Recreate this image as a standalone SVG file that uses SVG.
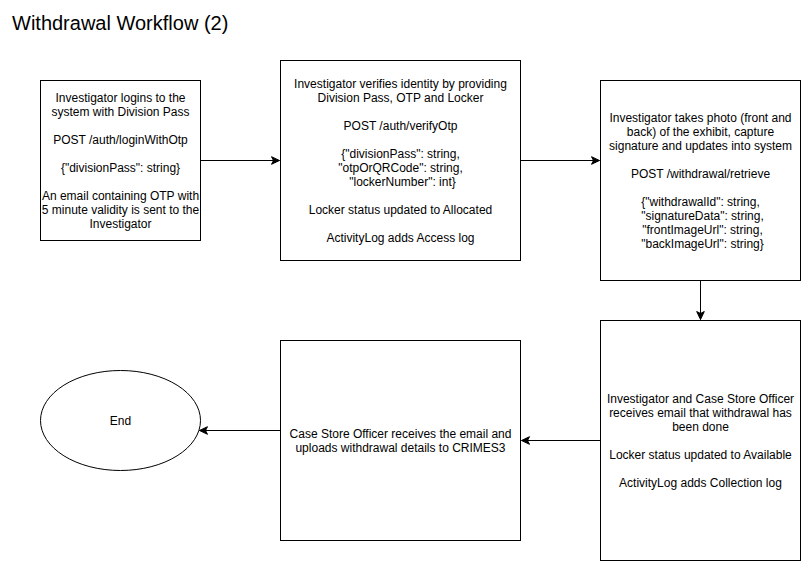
<svg xmlns="http://www.w3.org/2000/svg" width="801" height="561" viewBox="0 0 801 561">
  <defs>
    <marker id="arrow" markerUnits="userSpaceOnUse" markerWidth="12" markerHeight="10" refX="9" refY="5" orient="auto">
      <path d="M1,1.2 L9,5 L1,8.8 L3,5 Z" fill="#000" stroke="#000" stroke-width="1"/>
    </marker>
  </defs>
  <style>
    .box { fill: #fff; stroke: #000; stroke-width: 1; }
    .t { font-family: "Liberation Sans", Arial, Helvetica, sans-serif; font-size: 12px; fill: #000; text-anchor: middle; }
    .title { font-family: "Liberation Sans", Arial, Helvetica, sans-serif; font-size: 20px; fill: #000; }
    .edge { fill: none; stroke: #000; stroke-width: 1; marker-end: url(#arrow); }
  </style>
  <rect width="801" height="561" fill="#fff"/>
  <text class="title" x="12" y="30">Withdrawal Workflow (2)</text>
  <g transform="translate(0.5,0.5)">
    <g id="edges">
      <path class="edge" d="M200,160 L279,160"/>
      <path class="edge" d="M520,160 L599,160"/>
      <path class="edge" d="M700,280 L700,319"/>
      <path class="edge" d="M600,440 L521,440"/>
      <path class="edge" d="M280,430 L199,430"/>
    </g>
    <g id="login">
      <rect class="box" x="40" y="80" width="160" height="160"/>
      <text class="t" x="120" y="101">Investigator logins to the</text>
      <text class="t" x="120" y="115">system with Division Pass</text>
      <text class="t" x="120" y="143">POST /auth/loginWithOtp</text>
      <text class="t" x="120" y="171">{"divisionPass": string}</text>
      <text class="t" x="120" y="199">An email containing OTP with</text>
      <text class="t" x="120" y="213">5 minute validity is sent to the</text>
      <text class="t" x="120" y="227">Investigator</text>
    </g>
    <g id="verify">
      <rect class="box" x="280" y="60" width="240" height="200"/>
      <text class="t" x="400" y="87">Investigator verifies identity by providing</text>
      <text class="t" x="400" y="101">Division Pass, OTP and Locker</text>
      <text class="t" x="400" y="129">POST /auth/verifyOtp</text>
      <text class="t" x="400" y="157">{"divisionPass": string,</text>
      <text class="t" x="400" y="171">"otpOrQRCode": string,</text>
      <text class="t" x="402" y="185">"lockerNumber": int}</text>
      <text class="t" x="400" y="213">Locker status updated to Allocated</text>
      <text class="t" x="400" y="241">ActivityLog adds Access log</text>
    </g>
    <g id="retrieve">
      <rect class="box" x="600" y="80" width="200" height="200"/>
      <text class="t" x="700" y="121">Investigator takes photo (front and</text>
      <text class="t" x="700" y="135">back) of the exhibit, capture</text>
      <text class="t" x="700" y="149">signature and updates into system</text>
      <text class="t" x="700" y="177">POST /withdrawal/retrieve</text>
      <text class="t" x="700" y="205">{"withdrawalId": string,</text>
      <text class="t" x="702" y="219">"signatureData": string,</text>
      <text class="t" x="702" y="233">"frontImageUrl": string,</text>
      <text class="t" x="702" y="247">"backImageUrl": string}</text>
    </g>
    <g id="email">
      <rect class="box" x="600" y="320" width="200" height="240"/>
      <text class="t" x="700" y="402">Investigator and Case Store Officer</text>
      <text class="t" x="700" y="416">receives email that withdrawal has</text>
      <text class="t" x="700" y="430">been done</text>
      <text class="t" x="700" y="458">Locker status updated to Available</text>
      <text class="t" x="700" y="486">ActivityLog adds Collection log</text>
    </g>
    <g id="upload">
      <rect class="box" x="280" y="340" width="240" height="200"/>
      <text class="t" x="400" y="437">Case Store Officer receives the email and</text>
      <text class="t" x="400" y="451">uploads withdrawal details to CRIMES3</text>
    </g>
    <g id="end">
      <ellipse class="box" cx="120" cy="420" rx="80" ry="50"/>
      <text class="t" x="120" y="424">End</text>
    </g>
  </g>
</svg>
